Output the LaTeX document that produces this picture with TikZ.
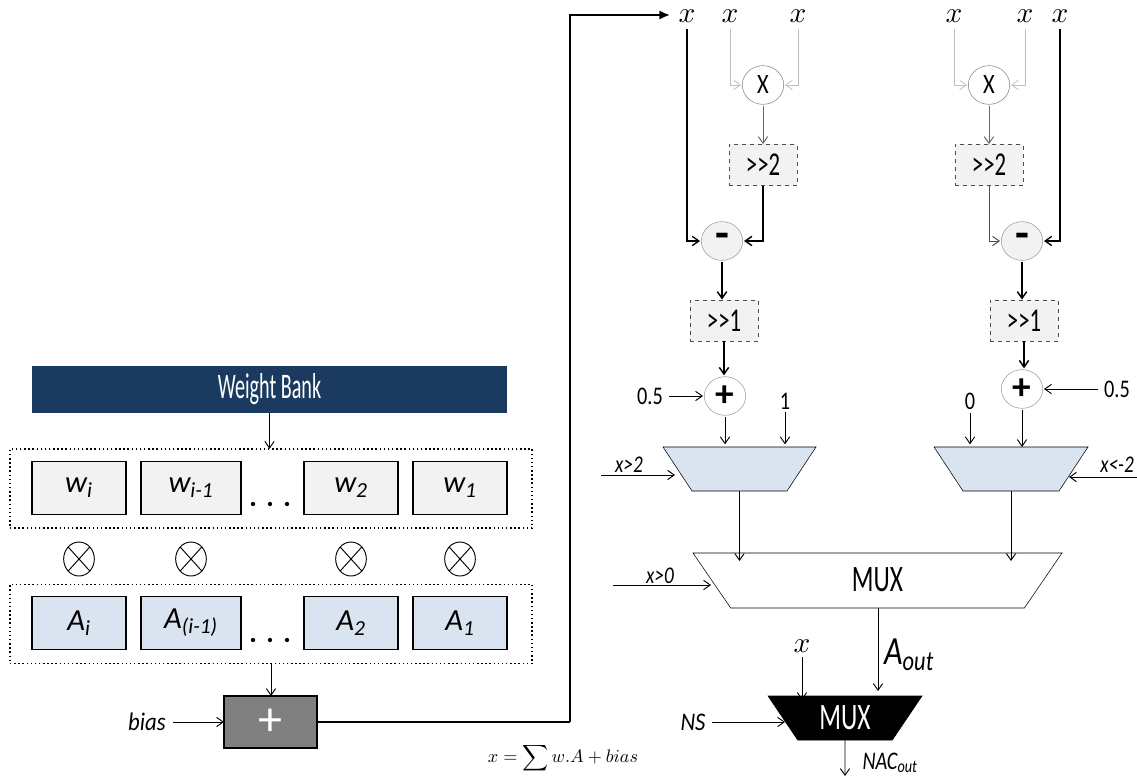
\documentclass[tikz,border=0pt]{standalone}
\usepackage{amsmath,amssymb}
\usepackage{fontspec}
\setmainfont{Carlito}
\usetikzlibrary{arrows.meta,shapes.geometric}
\definecolor{navy}{HTML}{1A3A60}
\definecolor{paleblue}{HTML}{DAE3F0}
\definecolor{palegray}{HTML}{F2F2F2}
\definecolor{midgray}{HTML}{808080}
\newcommand{\cond}[1]{\scalebox{0.8}[1]{#1}}
\newcommand{\tall}[1]{\scalebox{0.68}[1]{#1}}
\newcommand{\fs}[1]{\fontsize{#1}{#1}\selectfont}
\tikzset{
  >={Straight Barb[length=5pt,width=7pt]},
  reg/.style={draw,line width=1.1pt,minimum height=39.5pt,inner sep=0pt,outer sep=0pt,font=\fs{23}\itshape},
  wreg/.style={reg,fill=palegray},
  areg/.style={reg,fill=paleblue},
  dotbox/.style={draw,line width=1.1pt,dotted,minimum width=391.5pt,minimum height=59.5pt,inner sep=0pt,outer sep=0pt},
  shiftbox/.style={draw=black!70,dashed,fill=palegray,minimum width=51pt,minimum height=31pt,inner sep=0pt,font=\fs{25}},
  opnode/.style={ellipse,draw=black!40,minimum width=31pt,minimum height=29pt,inner sep=0pt,outer sep=1pt},
  timesnode/.style={ellipse,draw,line width=0.7pt,minimum width=23pt,minimum height=25.5pt,inner sep=0pt,outer sep=0pt,
    path picture={\draw[line width=0.7pt] (path picture bounding box.north west) -- (path picture bounding box.south east)
      (path picture bounding box.south west) -- (path picture bounding box.north east);}},
  mux/.style={trapezium,shape border rotate=180,trapezium stretches body=true,draw,inner sep=0pt,outer sep=0pt},
  lab/.style={font=\fs{19}\itshape,inner sep=0pt},
  cond/.style={font=\fs{18}\itshape,inner sep=0pt},
  num/.style={font=\fs{19},inner sep=0pt},
  varx/.style={scale=2.2,inner sep=0pt},
  arr/.style={->,line width=0.7pt},
  arrb/.style={->,line width=1.1pt},
  feint/.style={->,draw=black!25,line width=0.6pt},
}
\begin{document}
\begin{tikzpicture}[x=0.75pt,y=-0.75pt]
\useasboundingbox (0,0) rectangle (1137,781);

% left side: weights, activations, adder
\node[fill=navy,text=white,minimum width=356.25pt,minimum height=35.25pt,inner sep=0pt,font=\fs{27}] (bank) at (269.5,389.5) {\scalebox{0.56}[1]{Weight Bank}};
\node[dotbox] (wrow) at (271,488.5) {};
\node[dotbox] (arow) at (271,624) {};

\node[wreg,minimum width=70.5pt] (w4) at (79,488) {w\textsubscript{i}};
\node[wreg,minimum width=75pt] (w3) at (191,488) {w\textsubscript{i-1}};
\node[wreg,minimum width=70.5pt] (w2) at (351,488) {w\textsubscript{2}};
\node[wreg,minimum width=70.5pt] (w1) at (460,488) {w\textsubscript{1}};

\node[areg,minimum width=70.5pt] (a4) at (79,623) {A\textsubscript{i}};
\node[areg,minimum width=75pt] (a3) at (191,623) {A\textsubscript{(i-1)}};
\node[areg,minimum width=70.5pt] (a2) at (351,623) {A\textsubscript{2}};
\node[areg,minimum width=70.5pt] (a1) at (460,623) {A\textsubscript{1}};

\foreach \p in {w4,w3,w2,w1} \node[timesnode] (t\p) at (\p |- 0,559) {};
\foreach \p in {253,270,287} {
  \fill (\p,504) circle (1.6pt);
  \fill (\p,640) circle (1.6pt);
}

\node[draw,line width=1.1pt,fill=midgray,text=white,minimum width=69.75pt,minimum height=39pt,inner sep=0pt,outer sep=0pt,font=\fs{36}] (add) at (270.5,722) {+};
\node[lab] (bias) at (147,722) {\scalebox{0.9}[1]{bias}};
\node[inner sep=0pt,scale=1.36] (sum) at (563,758) {$x=\displaystyle\sum w.A+bias$};

\draw[arr] (bias.east) ++(7,0) -- (add);
\draw[arr] (bank) -- (bank |- wrow.north);
\draw[arr] (arow.south) -- (arow.south |- add.north);

% feedback of x
\node[varx] (xa) at (687,16) {$x$};
\node[varx] (xb) at (730,16) {$x$};
\node[varx] (xc) at (798,16) {$x$};
\node[varx] (xd) at (954,16) {$x$};
\node[varx] (xe) at (1025,16) {$x$};
\node[varx] (xf) at (1060,16) {$x$};
\coordinate (bend) at (570,15);
\draw[line width=1.1pt] (add.east) -- (bend |- add.east);
\draw[line width=2pt,-{Latex[length=8pt,width=7pt]}] (bend |- add.east) -- (bend) -- ([xshift=-6]xa.west |- bend);

% left branch
\node[opnode,draw=black!50] (mula) at (763,85) {\fs{21}\cond{X}};
\node[shiftbox] (srb) at (763,165) {\tall{>{}>2}};
\node[opnode,fill=palegray] (suba) at (722,241) {\fs{34}\bfseries -};
\node[shiftbox] (sra) at (724,320.5) {\tall{>{}>1}};
\node[opnode] (inca) at (725,396) {\fs{28}\bfseries +};
\node[num] (halfa) at (650,396) {\cond{0.5}};
\node[num] (one) at (785,401) {\cond{1}};
\node[mux,fill=paleblue,minimum width=114.75pt,trapezium angle=56.6] (muxa) at (739.5,469) {\rule[-16.5pt]{0pt}{33pt}};
\node[cond] (ga) at (629,465) {\cond{x>2}};
\coordinate (ina) at (601,475);

\draw[arr,line width=1pt] (xa.south) ++(0,6) |- (suba.west);
\draw[feint] (xb.south) ++(0,6) |- (mula.west);
\draw[feint] (xc.south) ++(0,6) |- (mula.east);
\draw[arr,draw=black!60] (mula.south) -- (mula.south |- srb.north);
\draw[arrb] (srb.south) |- (suba.east);
\draw[arrb] (suba.south) -- (suba.south |- sra.north);
\draw[arrb] (sra.south) -- (sra.south |- inca.north);
\draw[arr] (halfa.east) ++(6,0) -- (inca.west);
\draw[arr] (inca.south) -- ([yshift=2]inca.south |- muxa.north);
\draw[arr] (one.south) ++(0,3) -- ([yshift=2]one.south |- muxa.north);
\draw[arr] (ina) -- (675,475);

% right branch
\node[opnode,draw=black!50] (mulb) at (989,85) {\fs{21}\cond{X}};
\node[shiftbox] (srd) at (989,165) {\tall{>{}>2}};
\node[opnode,fill=palegray] (subb) at (1022,241) {\fs{34}\bfseries -};
\node[shiftbox] (src) at (1024,320.5) {\tall{>{}>1}};
\node[opnode] (incb) at (1022,389) {\fs{28}\bfseries +};
\node[num] (halfb) at (1117,389) {\cond{0.5}};
\node[num] (zero) at (970,401) {\cond{0}};
\node[mux,fill=paleblue,minimum width=115.5pt,trapezium angle=56.6] (muxb) at (1011,469) {\rule[-16.5pt]{0pt}{33pt}};
\node[cond] (gb) at (1117,465) {\cond{x<-2}};
\coordinate (inb) at (1137,477);

\draw[feint] (xd.south) ++(0,6) |- (mulb.west);
\draw[feint] (xe.south) ++(0,6) |- (mulb.east);
\draw[arr,line width=1pt] (xf.south) ++(0,6) |- (subb.east);
\draw[arr,draw=black!60] (mulb.south) -- (mulb.south |- srd.north);
\draw[arr,draw=black!70] (srd.south) |- (subb.west);
\draw[arrb] (subb.south) -- (subb.south |- src.north);
\draw[arrb] (src.south) -- (src.south |- incb.north);
\draw[arr] (halfb.west) ++(-6,0) -- (incb.east);
\draw[arr] (incb.south) -- (incb.south |- muxb.north);
\draw[arr] (zero.south) ++(0,3) -- ([yshift=2]zero.south |- muxb.north);
\draw[arr] (inb) -- (1069,477);

% output stage
\node[mux,minimum width=276.75pt,trapezium angle=55.6,font=\fs{28}] (muxc) at (877.5,580.5) {\rule[-20.6pt]{0pt}{41.25pt}\raisebox{-8.5pt}{\tall{MUX}}};
\node[cond] (gc) at (660,576) {\cond{x>0}};
\coordinate (inc) at (613,585);
\node[mux,fill=black,text=white,minimum width=115.5pt,trapezium angle=56,font=\fs{28}] (muxd) at (845,718) {\rule[-16.5pt]{0pt}{33pt}\raisebox{-8.5pt}{\tall{MUX}}};
\node[varx] (xg) at (802,646) {$x$};
\node[lab] (ns) at (693,722) {\scalebox{0.9}[1]{NS}};
\node[lab,font=\fs{30}\itshape] (aout) at (909,655) {\scalebox{0.8}[1]{A\textsubscript{out}}};
\node[lab] (nacout) at (890,763) {\cond{NAC\textsubscript{out}}};
\coordinate (outd) at (845,776);

\draw[arr] (muxa.south) -- ([yshift=-6]muxa.south |- muxc.north);
\draw[arr] (muxb.south) -- ([yshift=-6]muxb.south |- muxc.north);
\draw[arr] (inc) -- (711,585);
\draw[arr] (878,608) -- (878,691);
\draw[arr] (xg.south) ++(0,4) -- ([yshift=-3]xg.south |- muxd.north);
\draw[arr] (ns.east) ++(6,0) -- (785,722);
\draw[arr] (muxd.south) -- (outd);
\end{tikzpicture}
\end{document}
